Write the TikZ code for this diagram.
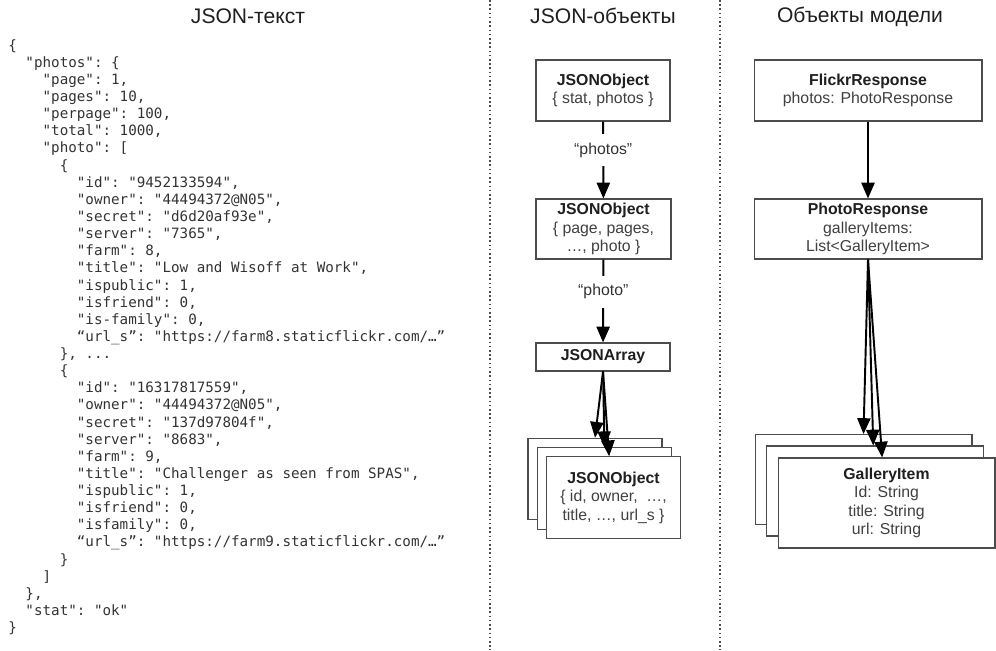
\documentclass[tikz,border=0pt]{standalone}
\usepackage{fontspec}
\setmainfont{Liberation Sans}
\setsansfont{Liberation Sans}
\setmonofont{DejaVu Sans Mono}
\usepackage{xcolor}
\usetikzlibrary{positioning, arrows.meta}
\definecolor{ink}{HTML}{333333}
\newcommand{\ind}[1]{\hspace*{0.602\dimexpr#1em\relax}}
\newcommand{\cname}[1]{\textbf{\color{black!88}#1}}
\tikzset{
  box/.style={draw=black!70, line width=0.6pt, fill=white, align=center,
              font=\fontsize{9}{10.5}\selectfont, text=black!75, inner sep=2pt},
  jstack/.style={box, minimum width=2.68cm, minimum height=1.63cm},
  mstack/.style={box, minimum width=4.34cm, minimum height=1.8cm},
  hd/.style={font=\fontsize{12}{14}\selectfont, text=black!88},
  arr/.style={-{Triangle[length=9pt, width=7.5pt]}, line width=1.1pt},
  lbl/.style={fill=white, font=\fontsize{9}{10}\selectfont, text=ink, inner xsep=2pt, inner ysep=5pt},
  sep/.style={dash pattern=on 0.9pt off 1.5pt, line width=0.9pt, black!70},
  code/.style={font=\fontsize{8.1}{9.75}\selectfont\ttfamily, text=ink, align=left,
               inner sep=0pt, anchor=north west}
}

\begin{document}
\begin{tikzpicture}[x=0.02cm, y=-0.02cm]
  \useasboundingbox (0,0) rectangle (996,650);
  % column separators
  \draw[sep] (490,0) -- (490,650);
  \draw[sep] (720,0) -- (720,650);
  % headings
  \node[hd] (hText) at (248,16) {JSON-текст};
  \node[hd] (hObj) at (603,16) {JSON-объекты};
  \node[hd] (hModel) at (860,17) {Объекты модели};
  % JSON text
  \node[code] (json) at (8,39) {%
    \{\\
    \ind{2}"photos": \{\\
    \ind{4}"page": 1,\\
    \ind{4}"pages": 10,\\
    \ind{4}"perpage": 100,\\
    \ind{4}"total": 1000,\\
    \ind{4}"photo": [\\
    \ind{6}\{\\
    \ind{8}"id": "9452133594",\\
    \ind{8}"owner": "44494372@N05",\\
    \ind{8}"secret": "d6d20af93e",\\
    \ind{8}"server": "7365",\\
    \ind{8}"farm": 8,\\
    \ind{8}"title": "Low and Wisoff at Work",\\
    \ind{8}"ispublic": 1,\\
    \ind{8}"isfriend": 0,\\
    \ind{8}"is-family": 0,\\
    \ind{8}“url\_s”: "https://farm8.staticflickr.com/…”\\
    \ind{6}\}, ...\\
    \ind{6}\{\\
    \ind{8}"id": "16317817559",\\
    \ind{8}"owner": "44494372@N05",\\
    \ind{8}"secret": "137d97804f",\\
    \ind{8}"server": "8683",\\
    \ind{8}"farm": 9,\\
    \ind{8}"title": "Challenger as seen from SPAS",\\
    \ind{8}"ispublic": 1,\\
    \ind{8}"isfriend": 0,\\
    \ind{8}"isfamily": 0,\\
    \ind{8}“url\_s”: "https://farm9.staticflickr.com/…”\\
    \ind{6}\}\\
    \ind{4}]\\
    \ind{2}\},\\
    \ind{2}"stat": "ok"\\
    \}};
  % JSON objects
  \node[box, minimum width=2.68cm, minimum height=1.22cm] (jo1) at (603,90.5)
    {\cname{JSONObject}\\\{ stat, photos \}};
  \node[box, minimum width=2.7cm, minimum height=1.2cm] (jo2) at (603.5,229)
    {\cname{JSONObject}\\\{ page, pages,\\…, photo \}};
  \node[box, minimum width=2.68cm, minimum height=0.56cm] (jarr) at (603,357)
    {\cname{JSONArray}};
  \node[jstack] (ja1) at (595,479) {};
  \node[jstack] (ja2) at (604.5,488.5) {};
  \node[jstack] (ja3) at (613.5,497.5)
    {\cname{JSONObject}\\\{ id, owner, \ …,\\title, …, url\_s \}};
  \draw[arr] (jo1) -- node[lbl, pos=0.37]{“photos”} (jo2);
  \draw[arr] (jo2) -- node[lbl, pos=0.39]{“photo”} (jarr);
  \draw[arr] (jarr.south) -- (ja1.north);
  \draw[arr] (jarr.south) -- (ja2.north);
  \draw[arr] (jarr.south) -- ([xshift=-2.5pt]ja3.north);
  % model objects
  \node[box, minimum width=4.56cm, minimum height=1.22cm] (fr) at (868,90.5)
    {\cname{FlickrResponse}\\photos: PhotoResponse};
  \node[box, minimum width=4.56cm, minimum height=1.2cm] (pr) at (868,229)
    {\cname{PhotoResponse}\\galleryItems:\\List<GalleryItem>};
  \node[mstack] (gi1) at (863.5,479.5) {};
  \node[mstack] (gi2) at (875,491) {};
  \node[mstack] (gi3) at (886.5,503)
    {\cname{GalleryItem}\\Id: String\\title: String\\url: String};
  \draw[arr] (fr) -- (pr);
  \draw[arr] (pr.south) -- (gi1.north);
  \draw[arr] (pr.south) -- ([xshift=-1pt]gi2.north);
  \draw[arr] (pr.south) -- ([xshift=-2.5pt]gi3.north);
\end{tikzpicture}
\end{document}
